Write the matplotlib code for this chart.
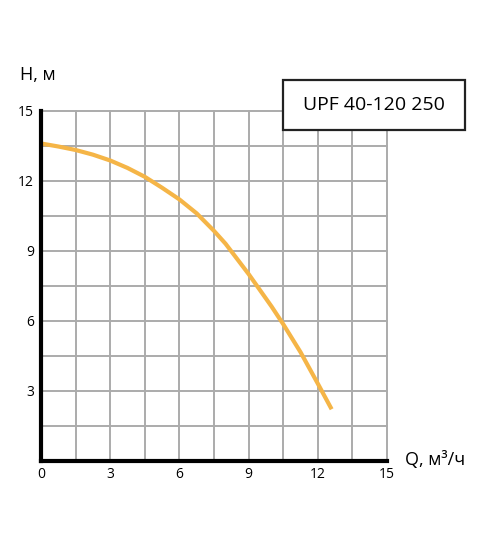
"""
Pump curve UPF 40-120 250
"""
import matplotlib
matplotlib.use("Agg")
import matplotlib.pyplot as plt
from matplotlib.patches import Rectangle
import numpy as np

# Curve: flow Q (m3/h) and head H (m)
flow = [0, 0.75, 1.5, 2.25, 3, 3.75, 4.5, 5.25, 6, 6.75, 7.5, 8.0, 8.5,
        9.0, 9.5, 10.0, 10.5, 11.25, 12, 12.6]
head = [13.6, 13.47, 13.32, 13.12, 12.87, 12.55, 12.17, 11.7, 11.2, 10.6,
        9.85, 9.3, 8.65, 8.0, 7.3, 6.6, 5.85, 4.65, 3.3, 2.2]
ticks = [0, 3, 6, 9, 12, 15]
title = "UPF 40-120 250"

plt.rcParams["font.family"] = ["Open Sans", "DejaVu Sans"]

fig = plt.figure(figsize=(5.0, 5.38), dpi=100)
ax = fig.add_axes([0.082, 0.144, 0.692, 0.65])

# Grid every 1.5 units
grid = np.arange(0, 15.01, 1.5)
for g in grid:
    ax.axvline(g, color="#ababab", lw=1.4, zorder=1, clip_on=False)
    ax.axhline(g, color="#ababab", lw=1.4, zorder=1, clip_on=False)

ax.plot(flow, head, color="#f5b547", lw=3.0, solid_capstyle="butt",
        solid_joinstyle="round", zorder=3)

ax.set_xlim(0, 15)
ax.set_ylim(0, 15)
ax.set_xticks(ticks)
ax.set_yticks(ticks[1:])
ax.tick_params(length=0, labelsize=10, pad=5)
for s in ["top", "right"]:
    ax.spines[s].set_visible(False)
for s in ["left", "bottom"]:
    ax.spines[s].set_linewidth(3)
    ax.spines[s].set_zorder(4)

fig.text(20 / 500, 1 - 75 / 538, "H, м", fontsize=13, va="center", ha="left")
fig.text(405 / 500, 1 - 460 / 538, "Q, м³/ч", fontsize=13, va="center", ha="left")

# Model label box
box = Rectangle((283 / 500, 1 - 130 / 538), 182 / 500, 50 / 538,
                transform=fig.transFigure, facecolor="white",
                edgecolor="#222222", lw=1.6, zorder=5)
fig.add_artist(box)
fig.text(374 / 500, 1 - 105 / 538, title, fontsize=14, ha="center",
         va="center", zorder=6)

fig.savefig("out.png", dpi=100)
